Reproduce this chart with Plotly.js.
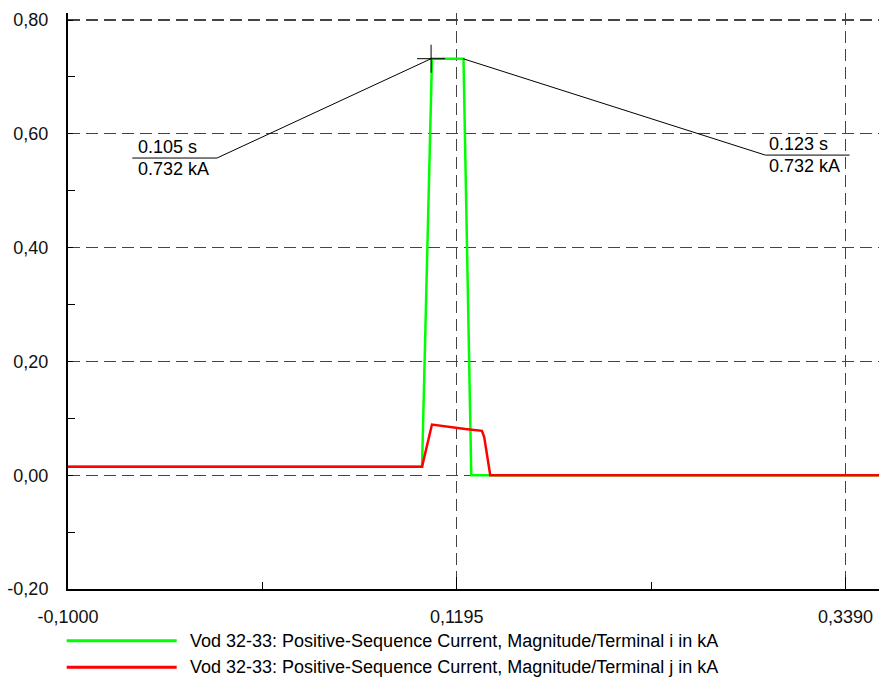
<!DOCTYPE html>
<html>
<head>
<meta charset="utf-8">
<script src="https://cdn.plot.ly/plotly-3.0.1.min.js"></script>
<style>
  html, body { margin: 0; padding: 0; background: #ffffff; }
  #chart { width: 879px; height: 680px; }
</style>
</head>
<body>
<div id="chart"></div>
<script>
// ---------------- DATA ----------------
const seriesNames = [
  "Vod 32-33: Positive-Sequence Current, Magnitude/Terminal i in kA",
  "Vod 32-33: Positive-Sequence Current, Magnitude/Terminal j in kA"
];
// Terminal i (green), time in s, current in kA
const timeI = [-0.1, 0.0999, 0.1055, 0.1233, 0.1277, 0.3579];
const currI = [0.015, 0.015, 0.732, 0.732, 0.0, 0.0];
// Terminal j (red)
const timeJ = [-0.1, 0.0999, 0.1055, 0.1121, 0.1187, 0.1243, 0.1337, 0.1350, 0.1384, 0.3579];
const currJ = [0.015, 0.015, 0.089, 0.086, 0.084, 0.081, 0.078, 0.067, 0.0, 0.0];
// Cursor readouts
const cursorT = [0.105, 0.123];
const cursorV = [0.732, 0.732];
// Axis ticks
const xTickVals = [-0.1, 0.1195, 0.339];
const xTickText = ["-0,1000", "0,1195", "0,3390"];
const xMinorVals = [0.00975, 0.22925];
const yTickVals = [-0.2, 0.0, 0.2, 0.4, 0.6, 0.8];
const yTickText = ["-0,20", "0,00", "0,20", "0,40", "0,60", "0,80"];
const yMinorVals = [-0.1, 0.1, 0.3, 0.5, 0.7];

// ---------------- LAYOUT CONSTANTS ----------------
const FONT = "Liberation Sans, Arial, Helvetica, sans-serif";
const M = { l: 68, r: 0, t: 13, b: 91 };
const W = 879, H = 680;
const PW = W - M.l - M.r, PH = H - M.t - M.b;
const xRange = [-0.1, 0.3579];
const yRange = [-0.2, 0.8123];
const pxX = px => (px - M.l) / PW;          // pixel -> paper x
const pxY = py => (H - M.b - py) / PH;      // pixel -> paper y

const green = "#00ff00", red = "#ff0000";

// label boxes for cursors (data-unit positions of underline)
const labelBoxes = [
  { x0: -0.0637, x1: -0.0159, y: 0.5574, join: "x1", textX: -0.0610 },
  { x0: 0.2937, x1: 0.3413, y: 0.5626, join: "x0", textX: 0.2955 }
];

const traces = [
  { x: timeI, y: currI, mode: "lines", name: seriesNames[0],
    line: { color: green, width: 2.5 }, showlegend: false, hoverinfo: "skip" },
  { x: timeJ, y: currJ, mode: "lines", name: seriesNames[1],
    line: { color: red, width: 2.5 }, showlegend: false, hoverinfo: "skip" }
];

// leader lines
labelBoxes.forEach((b, i) => {
  const jx = b[b.join];
  traces.push({
    x: [cursorT[i], jx, b.join === "x1" ? b.x0 : b.x1],
    y: [cursorV[i], b.y, b.y],
    mode: "lines", line: { color: "#000000", width: 1 },
    showlegend: false, hoverinfo: "skip"
  });
});
// cursor cross
traces.push({
  x: [cursorT[0]], y: [cursorV[0]], mode: "markers",
  marker: { symbol: "cross-thin-open", size: 20, color: "#000000",
            line: { color: "#000000", width: 1 } },
  showlegend: false, hoverinfo: "skip"
});

const annotations = [];
labelBoxes.forEach((b, i) => {
  annotations.push({
    x: b.textX, y: b.y, xref: "x", yref: "y", xanchor: "left", yanchor: "bottom",
    text: cursorT[i].toFixed(3) + " s", showarrow: false, yshift: 0, borderpad: 0,
    font: { family: FONT, size: 18, color: "#000000" }
  });
  annotations.push({
    x: b.textX, y: b.y, xref: "x", yref: "y", xanchor: "left", yanchor: "top",
    text: cursorV[i].toFixed(3) + " kA", showarrow: false, yshift: 0, borderpad: 0,
    font: { family: FONT, size: 18, color: "#000000" }
  });
});

// manual legend
const legendRows = [640.7, 667.3];
const legendColors = [green, red];
const shapes = [];
legendRows.forEach((py, i) => {
  shapes.push({
    type: "line", xref: "paper", yref: "paper",
    x0: pxX(66.7), x1: pxX(176.7), y0: pxY(py), y1: pxY(py),
    line: { color: legendColors[i], width: 3 }
  });
  annotations.push({
    xref: "paper", yref: "paper", x: pxX(188.3), y: pxY(py),
    xanchor: "left", yanchor: "middle", showarrow: false,
    text: seriesNames[i], font: { family: FONT, size: 18, color: "#000000" }
  });
});

const axisCommon = {
  showline: true, linecolor: "#000000", linewidth: 2,
  showgrid: true, gridcolor: "#444444", gridwidth: 1.2, griddash: "12px,6px",
  zeroline: false, ticks: "inside", tickcolor: "#000000", tickwidth: 1,
  tickfont: { family: FONT, size: 18, color: "#111111" },
  tickmode: "array", fixedrange: true
};

const layout = {
  width: W, height: H,
  margin: { l: M.l, r: M.r, t: M.t, b: M.b, pad: 0 },
  paper_bgcolor: "#ffffff", plot_bgcolor: "#ffffff",
  showlegend: false,
  font: { family: FONT, size: 18, color: "#000000" },
  xaxis: Object.assign({}, axisCommon, {
    range: xRange, tickvals: xTickVals, ticktext: xTickText, ticklen: 12,
    ticklabelstandoff: 10,
    minor: { tickmode: "array", tickvals: xMinorVals, ticks: "inside", ticklen: 7,
             tickcolor: "#000000", showgrid: false }
  }),
  yaxis: Object.assign({}, axisCommon, {
    range: yRange, tickvals: yTickVals, ticktext: yTickText, ticklen: 5,
    ticklabelstandoff: 14,
    minor: { tickmode: "array", tickvals: yMinorVals, ticks: "inside", ticklen: 7,
             tickcolor: "#000000", showgrid: false }
  }),
  shapes: shapes,
  annotations: annotations
};

Plotly.newPlot("chart", traces, layout, { displayModeBar: false, staticPlot: true });
</script>
</body>
</html>
